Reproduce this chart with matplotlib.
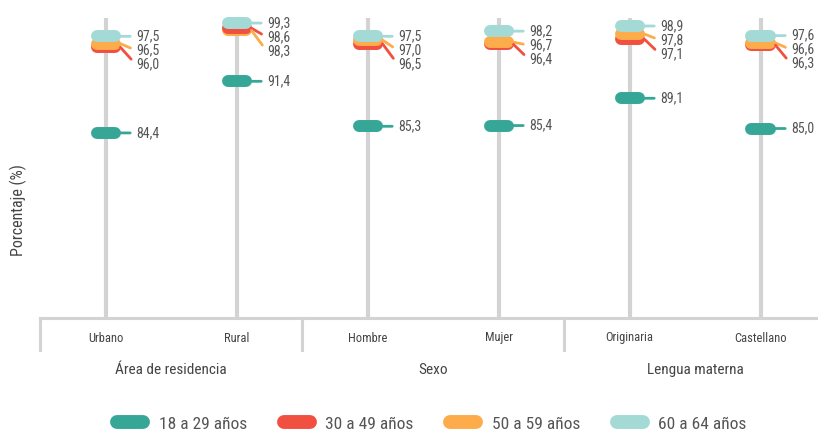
import matplotlib
matplotlib.use("Agg")
import matplotlib.pyplot as plt
import matplotlib.font_manager as fm
import matplotlib.transforms as mtransforms
from matplotlib.lines import Line2D

_names = {f.name for f in fm.fontManager.ttflist}
for _font_name in ["Liberation Sans Narrow", "Roboto Condensed", "Liberation Sans"]:
    if _font_name in _names:
        plt.rcParams["font.family"] = [_font_name, "DejaVu Sans"]
        break

# datos
categorias = ["Urbano", "Rural", "Hombre", "Mujer", "Originaria", "Castellano"]
grupos = ["Área de residencia", "Sexo", "Lengua materna"]
edades = ["18 a 29 años", "30 a 49 años", "50 a 59 años", "60 a 64 años"]
v_18_29 = [84.4, 91.4, 85.3, 85.4, 89.1, 85.0]
v_30_49 = [96.0, 98.6, 96.5, 96.4, 97.1, 96.3]
v_50_59 = [96.5, 98.3, 97.0, 96.7, 97.8, 96.6]
v_60_64 = [97.5, 99.3, 97.5, 98.2, 98.9, 97.6]
series = [v_18_29, v_30_49, v_50_59, v_60_64]

COLORS = ["#36a797", "#f14f3f", "#fcac4a", "#a3dad6"]
STEM = "#d3d3d3"
TEXT = "#555555"

fig = plt.figure(figsize=(8.18, 4.37), dpi=100)
ax = fig.add_axes([40 / 818, 1 - 318 / 437, 786 / 818, 306 / 437])
ax.set_xlim(-0.5, 5.5)
ax.set_ylim(59.3, 100.8)
ax.set_xticks([])
ax.set_yticks([])
for s in ["top", "right", "left"]:
    ax.spines[s].set_visible(False)
ax.spines["bottom"].set_color(STEM)
ax.spines["bottom"].set_linewidth(2.2)

xs = list(range(len(categorias)))
ax.vlines(xs, 59.3, 100, color=STEM, lw=3, zorder=1)

# píldoras
half = 9 / 131
for vals, c in zip(series, COLORS):
    for x, v in zip(xs, vals):
        ax.plot([x - half, x + half], [v, v], color=c, lw=8.6,
                solid_capstyle="round", zorder=2 + v / 100)

# etiquetas con líneas guía
fig.canvas.draw()
for x in xs:
    items = sorted([(s[x], c) for s, c in zip(series, COLORS)], reverse=True)
    prev = None
    for v, c in items:
        yd = ax.transData.transform((x, v))[1]
        ly = yd if prev is None else min(yd, prev - 14)
        prev = ly
        ax.annotate(f"{v:.1f}".replace(".", ","), xy=(x + 15 / 131, v),
                    xytext=(11, (ly - yd) * 0.72), textcoords="offset points",
                    ha="left", va="center", fontsize=10, color=TEXT,
                    arrowprops=dict(arrowstyle="-", color=c, lw=2,
                                    relpos=(0, 0.5), shrinkA=2, shrinkB=0),
                    zorder=5)

# eje x agrupado
trans = mtransforms.blended_transform_factory(ax.transData, ax.transAxes)
for b in [-0.5, 1.5, 3.5, 5.5]:
    ax.plot([b, b], [0, -32 / 306], color=STEM, lw=2.2, transform=trans, clip_on=False)
for x, cat in zip(xs, categorias):
    ax.text(x, -20 / 306, cat, transform=trans, ha="center", va="center",
            fontsize=9, color="#444444")
for i, g in enumerate(grupos):
    ax.text(2 * i + 0.5, -52 / 306, g, transform=trans, ha="center", va="center",
            fontsize=11, color="#444444")

fig.text(18 / 818, 1 - 210 / 437, "Porcentaje (%)", rotation=90, ha="center",
         va="center", fontsize=11.5, color="#444444")

handles = [Line2D([0], [0], color=c, lw=10, solid_capstyle="round") for c in COLORS]
fig.legend(handles, edades, loc="center", bbox_to_anchor=(432 / 818, 1 - 424 / 437),
           ncol=4, frameon=False, fontsize=12.5, labelcolor=TEXT,
           handlelength=1.5, handletextpad=0.9, columnspacing=2.1)

fig.savefig("out.png", dpi=100, facecolor="white")
